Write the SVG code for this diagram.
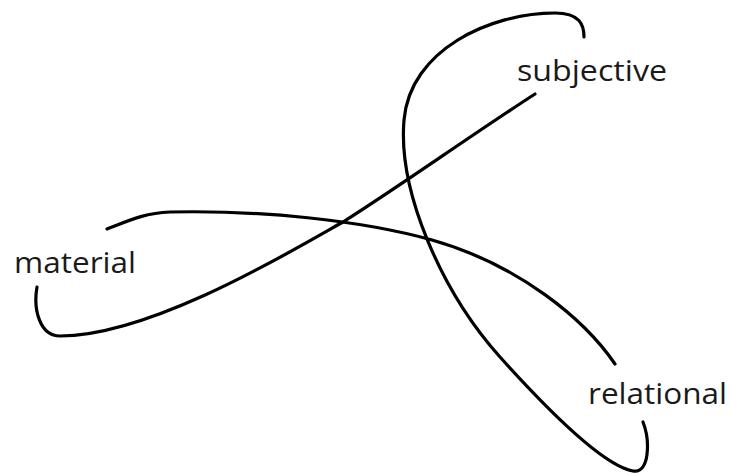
<svg xmlns="http://www.w3.org/2000/svg" width="731" height="475" viewBox="0 0 731 475">
<style>
.c{fill:none;stroke:#000;stroke-width:3.2;stroke-linecap:round;stroke-linejoin:round}
.t{font-family:"Open Sans","Noto Sans","Liberation Sans",sans-serif;font-size:30px;fill:#1a1a1a}
</style>
<rect width="731" height="475" fill="#fff"/>
<g id="connectors">
<path class="c" d="M584,37 C584,25 580,13 555,13 C490,13 410,50 404,120 C398,190 440,290 500,357 C536,397 600,465 633,471 C650,474 650,440 643,422"/>
<path class="c" d="M535,94 C470,136 400,186 343,222 C290,252 150,336 60,336 C40,336 33,310 37,287"/>
<path class="c" d="M107,229 C130,220 145,213 170,212 C260,210 360,220 432,240 C520,265 585,320 615,364"/>
</g>
<g id="subjective"><text class="t" x="517" y="81" textLength="150" lengthAdjust="spacingAndGlyphs">subjective</text></g>
<g id="material"><text class="t" x="14" y="273" textLength="122" lengthAdjust="spacingAndGlyphs">material</text></g>
<g id="relational"><text class="t" x="588" y="404" textLength="139" lengthAdjust="spacingAndGlyphs">relational</text></g>
</svg>
